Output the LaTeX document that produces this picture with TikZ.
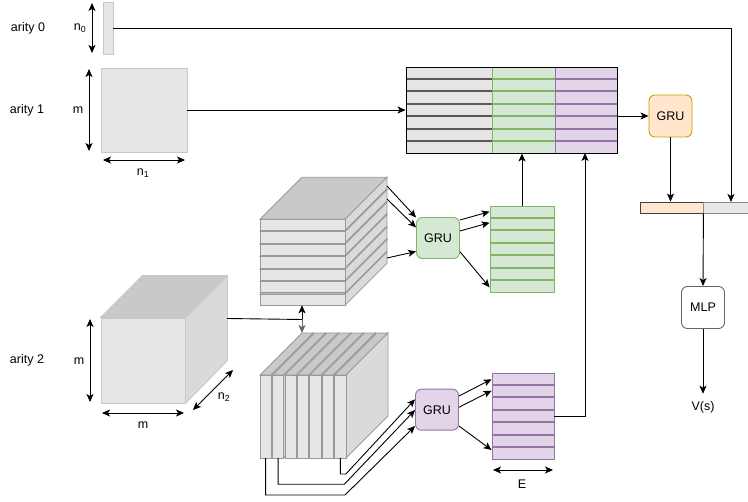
\documentclass[tikz,border=0pt]{standalone}
\usepackage{fontspec}
\setmainfont{Liberation Sans}
\usetikzlibrary{arrows.meta,calc}

\definecolor{boxgray}{HTML}{E6E6E6}
\definecolor{edgegray}{HTML}{C8C8C8}
\definecolor{slabline}{HTML}{999999}
\definecolor{topgray}{HTML}{C9C9C9}
\definecolor{sidegray}{HTML}{DADADA}
\definecolor{greenfill}{HTML}{D5E8D4}
\definecolor{greenline}{HTML}{82B366}
\definecolor{purplefill}{HTML}{E1D5E7}
\definecolor{purpleline}{HTML}{9673A6}
\definecolor{orangefill}{HTML}{FFE6CC}
\definecolor{orangeline}{HTML}{D79B00}

\begin{document}
\begin{tikzpicture}[x=1pt,y=-1pt,line width=0.9pt,
  every node/.style={font=\fontsize{12.5}{14}\selectfont,inner sep=0pt},
  arr/.style={-{Stealth[length=8pt,width=7pt,inset=2pt]}},
  dim/.style={{Stealth[length=8pt,width=7pt,inset=2pt]}-{Stealth[length=8pt,width=7pt,inset=2pt]}},
  plain/.style={draw=edgegray,fill=boxgray},
  gru/.style={draw,rounded corners=6pt,minimum width=43pt,minimum height=41pt},
  slab/.style={draw=slabline,fill=boxgray,line width=0.8pt},
  slabtop/.style={draw=slabline,fill=topgray,line width=0.8pt},
  slabside/.style={draw=slabline,fill=sidegray,line width=0.8pt}]
\useasboundingbox (0,0) rectangle (748,502);

% row labels
\node (lbla0) at (28,28) {arity 0};
\node (lbla1) at (27,110) {arity 1};
\node (lbla2) at (27,360) {arity 2};

% arity 0 vector
\node[plain,minimum width=10pt,minimum height=52pt] (vec0) at (108,28) {};
\draw[dim] (92,3) -- (92,53);
\node (lbln0) at (80,28) {n\textsubscript{0}};

% arity 1 matrix
\node[plain,minimum width=86pt,minimum height=84pt] (mat1) at (144,110) {};
\draw[dim] (89,69) -- (89,151);
\node (lblm1) at (78,110) {m};
\draw[dim] (103,160) -- (185,160);
\node (lbln1) at (143,173) {n\textsubscript{1}};

% arity 2 cube
\node[plain,minimum width=84pt,minimum height=85pt] (cubeF) at (143,360.5) {};
\draw[draw=edgegray,fill=topgray] (cubeF.north west) -- ++(42,-42) -- ++(84,0) -- (cubeF.north east) -- cycle;
\draw[draw=edgegray,fill=sidegray] (cubeF.north east) -- ++(42,-42) -- ++(0,85) -- (cubeF.south east) -- cycle;
\draw[dim] (90,319) -- (90,402);
\node (lblm2) at (79,361) {m};
\draw[dim] (102,413) -- (184,413);
\node (lblm3) at (143,425) {m};
\draw[dim] (193,410) -- (233,370);
\node (lbln2) at (224,397) {n\textsubscript{2}};

% upper stack (row slices)
\foreach \k in {6,5,...,0} {
  \pgfmathsetmacro\yt{219.3+12.46*\k}
  \pgfmathsetmacro\yb{\yt+11.26}
  \draw[slabtop] (260,\yt) -- (345,\yt) -- (387,\yt-42) -- (302,\yt-42) -- cycle;
  \draw[slabside] (345,\yt) -- (387,\yt-42) -- (387,\yb-42) -- (345,\yb) -- cycle;
  \draw[slab] (260,\yt) rectangle (345,\yb);
}

% lower stack (column slices)
\foreach \k in {0,...,6} {
  \pgfmathsetmacro\xl{260+12.46*\k}
  \pgfmathsetmacro\xr{\xl+11.26}
  \draw[slabtop] (\xl,375) -- (\xr,375) -- (\xr+42,333) -- (\xl+42,333) -- cycle;
  \draw[slabside] (\xr,375) -- (\xr+42,333) -- (\xr+42,416) -- (\xr,458) -- cycle;
  \draw[slab] (\xl,375) rectangle (\xr,458);
}

\coordinate (upA) at (387,186);
\coordinate (upB) at (387,199);
\coordinate (upG) at (387,258);
\coordinate (upS) at (302,305.3);
\coordinate (loS) at (302,333);
\coordinate (loA) at (265.6,458);
\coordinate (loB) at (278.1,458);
\coordinate (loG) at (340.4,458);
\coordinate (cubeR) at (227,318.5);
\coordinate (split) at (302,319.5);

% big embedding matrix
\foreach \k in {0,...,6} {
  \pgfmathsetmacro\yt{67+12.46*\k}
  \pgfmathsetmacro\yb{\yt+11.26}
  \draw[draw=black!65,fill=boxgray] (406,\yt) rectangle (492,\yb);
  \draw[draw=greenline,fill=greenfill] (492,\yt) rectangle (555,\yb);
  \draw[draw=purpleline,fill=purplefill] (555,\yt) rectangle (617,\yb);
}
\draw[greenline] (492,67) -- (492,153);
\draw[purpleline] (555,67) -- (555,153);
\node[draw=black,minimum width=211pt,minimum height=86pt] (emb) at (511.5,110) {};

% green and purple columns
\foreach \k in {0,...,6} {
  \pgfmathsetmacro\yt{206+12.46*\k}
  \draw[draw=greenline,fill=greenfill] (490,\yt) rectangle (554,\yt+11.26);
  \pgfmathsetmacro\yp{373+12.46*\k}
  \draw[draw=purpleline,fill=purplefill] (492,\yp) rectangle (554,\yp+11.26);
}
\node[draw=greenline,minimum width=64pt,minimum height=86pt] (colG) at (522,249) {};
\node[draw=purpleline,minimum width=62pt,minimum height=86pt] (colP) at (523,416) {};
\draw[dim] (493,470) -- (553,470);
\node (lblE) at (522,484) {E};

% GRUs, concat and MLP
\node[gru,draw=greenline,fill=greenfill] (gruG) at (438,238) {GRU};
\node[gru,draw=purpleline,fill=purplefill] (gruP) at (437,409.7) {GRU};
\node[gru,draw=orangeline,fill=orangefill,minimum height=42pt] (gruO) at (670.5,116) {GRU};
\node[draw=black!75,fill=orangefill,minimum width=63pt,minimum height=11pt] (catO) at (671.5,207.5) {};
\node[draw=black!45,fill=boxgray,minimum width=47pt,minimum height=11pt,anchor=west] (catG) at (catO.east) {};
\coordinate (catIn) at (731,202);
\node[gru,draw=black!60,fill=white,minimum height=42pt] (mlp) at (703,307.5) {MLP};
\node (vs) at (703,407) {V(s)};
\coordinate (embP) at (585,153);

% connectors
\draw[arr] (vec0.east) -| (catIn);
\draw[arr] (mat1.east) -- (emb.west);
\draw[arr] (emb.east |- gruO.west) -- (gruO.west);
\draw[arr] (gruO.south) -- (gruO.south |- catO.north);
\draw[arr] (catO.south east) -- (mlp.north);
\draw[arr,shorten >=7pt] (mlp.south) -- (vs.north);
\draw[arr] (colG.north) -- (colG.north |- emb.south);
\draw[arr] (colP.east) -| (embP);

\draw (cubeR) -- (split);
\draw[arr] (split) -- (upS);
\draw[arr,black!60] (split) -- (loS);

\draw[arr] (upA) -- ($(gruG.west)+(0,-20.5)$);
\draw[arr] (upB) -- ($(gruG.west)+(0,-10.5)$);
\draw[arr] (upG) -- ($(gruG.west)+(0,13.5)$);
\draw[arr] ($(gruG.east)+(0,-18)$) -- ($(colG.west)+(0,-37.3)$);
\draw[arr] ($(gruG.east)+(0,-7)$) -- ($(colG.west)+(0,-26.3)$);
\draw[arr] ($(gruG.east)+(0,13.7)$) -- ($(colG.west)+(0,38.3)$);

\draw[arr] (loG) -- ++(0,16) -- ++(5.5,0) -- ($(gruP.west)+(0,-10.4)$);
\draw[arr] (loB) -- ++(0,26.3) -- (344.3,484.3) -- ($(gruP.west)+(0,0.3)$);
\draw[arr] (loA) -- ++(0,37) -- (345,495) -- ($(gruP.west)+(0,16.3)$);
\draw[arr] ($(gruP.east)+(0,-13.7)$) -- ($(colP.west)+(0,-36.7)$);
\draw[arr] ($(gruP.east)+(0,-2.4)$) -- ($(colP.west)+(0,-25.3)$);
\draw[arr] ($(gruP.east)+(0,16.3)$) -- ($(colP.west)+(0,34)$);
\end{tikzpicture}
\end{document}
